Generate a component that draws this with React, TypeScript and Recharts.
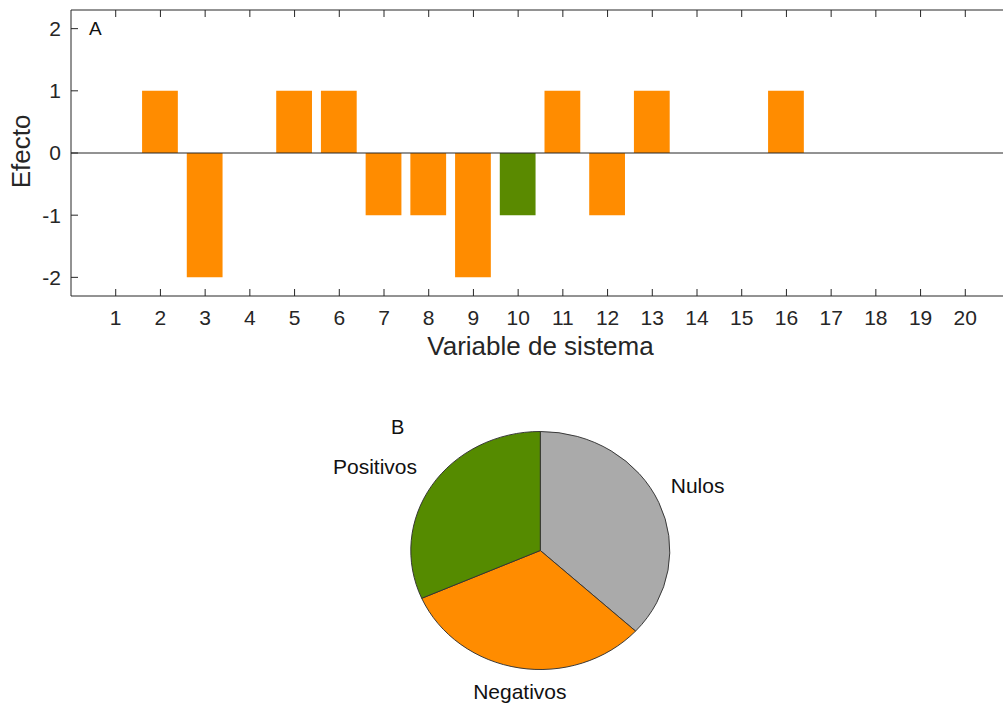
import React from 'react';
import { BarChart, Bar, XAxis, YAxis, Cell, ReferenceLine, PieChart, Pie, Label } from 'recharts';

// ---- data ----
const variables = [1, 2, 3, 4, 5, 6, 7, 8, 9, 10, 11, 12, 13, 14, 15, 16, 17, 18, 19, 20];
const efectos = [0, 1, -2, 0, 1, 1, -1, -1, -2, -1, 1, -1, 1, 0, 0, 1, 0, 0, 0, 0];
const greenVariables = [10];
const xTicks = [1, 2, 3, 4, 5, 6, 7, 8, 9, 10, 11, 12, 13, 14, 15, 16, 17, 18, 19, 20];
const yTicks = [-2, -1, 0, 1, 2];
const yDomain = [-2.3, 2.3];
const pieNames = ['Nulos', 'Negativos', 'Positivos'];
const pieValues = [7, 6, 6];
const pieColors = ['#AAAAAA', '#FF8C00', '#558B00'];

const ORANGE = '#FF8C00';
const GREEN = '#5A8A00';
const AXIS = '#262626';
const FONT = '"Liberation Sans", Arial, Helvetica, sans-serif';

const barData = variables.map((v, i) => ({ variable: v, efecto: efectos[i] }));
const pieData = pieNames.map((n, i) => ({ name: n, value: pieValues[i] }));

const K = 0.919; // vertical squash of the pie (ellipse)
const PIE_CY = 150.5;

// plot geometry (pixels)
const PLOT_TOP = 10;
const PLOT_BOTTOM = 296;
const TICK_LEN = 7;
const topTickLen = ((yDomain[1] - yDomain[0]) * TICK_LEN) / (PLOT_BOTTOM - PLOT_TOP);

const renderPieLabel = (props: any) => {
  const { cx, cy, midAngle, outerRadius } = props;
  const name = props.name ?? props.payload?.name;
  const rad = Math.PI / 180;
  const c = Math.cos(-midAngle * rad);
  const s = Math.sin(-midAngle * rad);
  const anchor = c > 0.3 ? 'start' : c < -0.3 ? 'end' : 'middle';
  const x = cx + 1.1 * outerRadius * c + (anchor === 'end' ? -4 : anchor === 'middle' ? 3 : 0);
  const dyVisual = 1.1 * outerRadius * K * s + (s >= 0 ? 12 : -12);
  const y = cy + dyVisual / K;
  return (
    <text
      transform={`translate(${x},${y}) scale(1,${1 / K})`}
      textAnchor={anchor}
      dominantBaseline="central"
      fontSize={21}
      fill="#111"
    >
      {name}
    </text>
  );
};

const YTitle = (props: any) => {
  const vb = props.viewBox || { x: 0, y: 10, width: 71, height: 286 };
  const cx = vb.x + 30;
  const cy = vb.y + vb.height / 2 - 1.5;
  return (
    <text x={cx} y={cy} transform={`rotate(-90, ${cx}, ${cy})`} textAnchor="middle" fontSize={26} fill={AXIS}>
      Efecto
    </text>
  );
};

const XTitle = (props: any) => {
  const vb = props.viewBox || { x: 71, y: 296, width: 939, height: 77 };
  return (
    <text x={vb.x + vb.width / 2} y={vb.y + 59} textAnchor="middle" fontSize={26} fill={AXIS}>
      Variable de sistema
    </text>
  );
};

export default function App() {
  const plotWidth = 1010 - 71;
  const barSize = (plotWidth / 21) * 0.8;
  return (
    <div
      style={{
        position: 'absolute',
        left: 0,
        top: 0,
        width: 1003,
        height: 705,
        overflow: 'hidden',
        background: '#fff',
        fontFamily: FONT,
      }}
    >
      <div style={{ position: 'absolute', left: 0, top: 0 }}>
        <BarChart width={1018} height={373} data={barData} margin={{ top: 0, right: 0, bottom: 0, left: 0 }}>
          <XAxis
            xAxisId="bottom"
            type="number"
            dataKey="variable"
            domain={[0, 21]}
            ticks={xTicks}
            interval={0}
            orientation="bottom"
            height={77}
            tickSize={-TICK_LEN}
            tickMargin={21}
            stroke={AXIS}
            tick={{ fill: AXIS, fontSize: 21 }}
          >
            <Label content={XTitle} />
          </XAxis>
          <XAxis
            xAxisId="top"
            type="number"
            dataKey="variable"
            domain={[0, 21]}
            ticks={xTicks}
            interval={0}
            orientation="top"
            height={PLOT_TOP}
            tickLine={false}
            tick={false}
            stroke={AXIS}
          />
          <YAxis
            yAxisId="left"
            type="number"
            domain={yDomain}
            ticks={yTicks}
            interval={0}
            width={71}
            tickSize={-TICK_LEN}
            tickMargin={17}
            stroke={AXIS}
            tick={{ fill: AXIS, fontSize: 21 }}
            allowDataOverflow
          >
            <Label content={YTitle} />
          </YAxis>
          <YAxis
            yAxisId="right"
            orientation="right"
            type="number"
            domain={yDomain}
            ticks={yTicks}
            interval={0}
            width={8}
            tickSize={-TICK_LEN}
            tick={false}
            stroke={AXIS}
            allowDataOverflow
          />
          <Bar xAxisId="bottom" yAxisId="left" dataKey="efecto" barSize={barSize} isAnimationActive={false}>
            {barData.map((d) => (
              <Cell key={d.variable} fill={greenVariables.includes(d.variable) ? GREEN : ORANGE} />
            ))}
          </Bar>
          <ReferenceLine xAxisId="bottom" yAxisId="left" y={0} stroke={AXIS} strokeWidth={1} />
          {xTicks.map((t) => (
            <ReferenceLine
              key={`tt${t}`}
              xAxisId="bottom"
              yAxisId="left"
              segment={[
                { x: t, y: yDomain[1] },
                { x: t, y: yDomain[1] - topTickLen },
              ]}
              stroke={AXIS}
              strokeWidth={1}
            />
          ))}
        </BarChart>
      </div>

      <div
        style={{
          position: 'absolute',
          left: 0,
          top: 400,
          transform: `scaleY(${K})`,
          transformOrigin: `0px ${PIE_CY}px`,
        }}
      >
        <PieChart width={1003} height={320} margin={{ top: 0, right: 0, bottom: 0, left: 0 }}>
          <Pie
            data={pieData}
            dataKey="value"
            nameKey="name"
            cx={540.3}
            cy={PIE_CY}
            outerRadius={129.5}
            startAngle={90}
            endAngle={-270}
            stroke="#333333"
            strokeWidth={1}
            label={renderPieLabel}
            labelLine={false}
            isAnimationActive={false}
          >
            {pieData.map((d, i) => (
              <Cell key={d.name} fill={pieColors[i]} />
            ))}
          </Pie>
        </PieChart>
      </div>

      <svg
        width={1003}
        height={705}
        style={{ position: 'absolute', left: 0, top: 0, pointerEvents: 'none' }}
      >
        <text x={89} y={35} fontSize={19} fill="#111">A</text>
        <text x={391} y={433.5} fontSize={20} fill="#111">B</text>
      </svg>
    </div>
  );
}
